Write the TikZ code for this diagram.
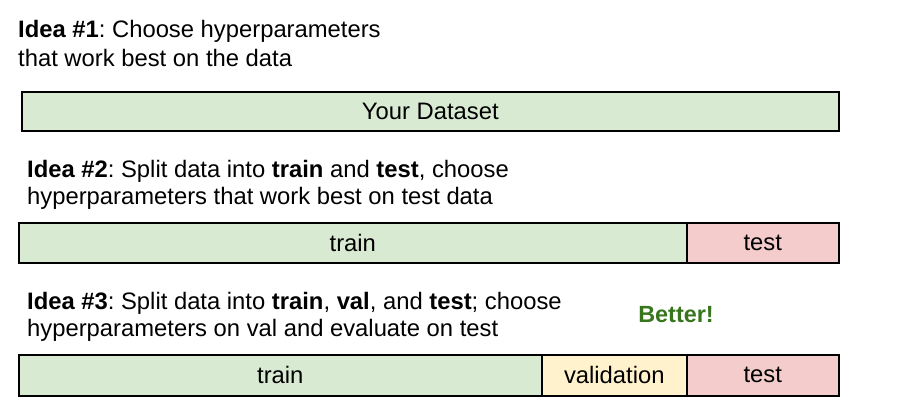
\documentclass[tikz,border=0pt]{standalone}
\usepackage{fontspec}
\setmainfont{Liberation Sans}
\frenchspacing
\begin{document}
\begin{tikzpicture}[x=1pt,y=-1pt,
  para/.style={anchor=base west,inner sep=0pt,font=\fontsize{23.8}{28}\selectfont},
  cell/.style={draw=black,line width=1.6pt,anchor=north west,inner sep=0pt,font=\fontsize{23.8}{28}\selectfont},
  trainc/.style={cell,fill=trainfill},
  testc/.style={cell,fill=testfill},
  valc/.style={cell,fill=valfill}]
\definecolor{trainfill}{HTML}{D9EAD3}
\definecolor{testfill}{HTML}{F4CCCC}
\definecolor{valfill}{HTML}{FFF2CC}
\definecolor{better}{HTML}{38761D}
\useasboundingbox (0,0) rectangle (910,401);
\fill[white] (0,0) rectangle (910,401);

% Idea 1
\node[para] (idea1a) at (18,38) {\textbf{Idea \#1}: Choose hyperparameters};
\node[para] (idea1b) at (18,67) {that work best on the data};
\node[trainc,minimum width=817,minimum height=39] (data) at (21,91) {Your Dataset};

% Idea 2
\node[para] (idea2a) at (27,177) {\textbf{Idea \#2}: Split data into \textbf{train} and \textbf{test}, choose};
\node[para] (idea2b) at (27,204) {hyperparameters that work best on test data};
\node[trainc,minimum width=668,minimum height=40] (train2) at (18,222) {train};
\node[testc,minimum width=152,minimum height=40] (test2) at (686,222) {test};

% Idea 3
\node[para] (idea3a) at (27,309) {\textbf{Idea \#3}: Split data into \textbf{train}, \textbf{val}, and \textbf{test}; choose};
\node[para] (idea3b) at (27,336) {hyperparameters on val and evaluate on test};
\node[anchor=base,inner sep=0pt,text=better,font=\fontsize{23.4}{28}\selectfont\bfseries] (better) at (676,322) {Better!};
\node[trainc,minimum width=523,minimum height=41] (train3) at (18,354) {train};
\node[valc,minimum width=145,minimum height=41] (val3) at (541,354) {validation};
\node[testc,minimum width=152,minimum height=41] (test3) at (686,354) {test};
\end{tikzpicture}
\end{document}
